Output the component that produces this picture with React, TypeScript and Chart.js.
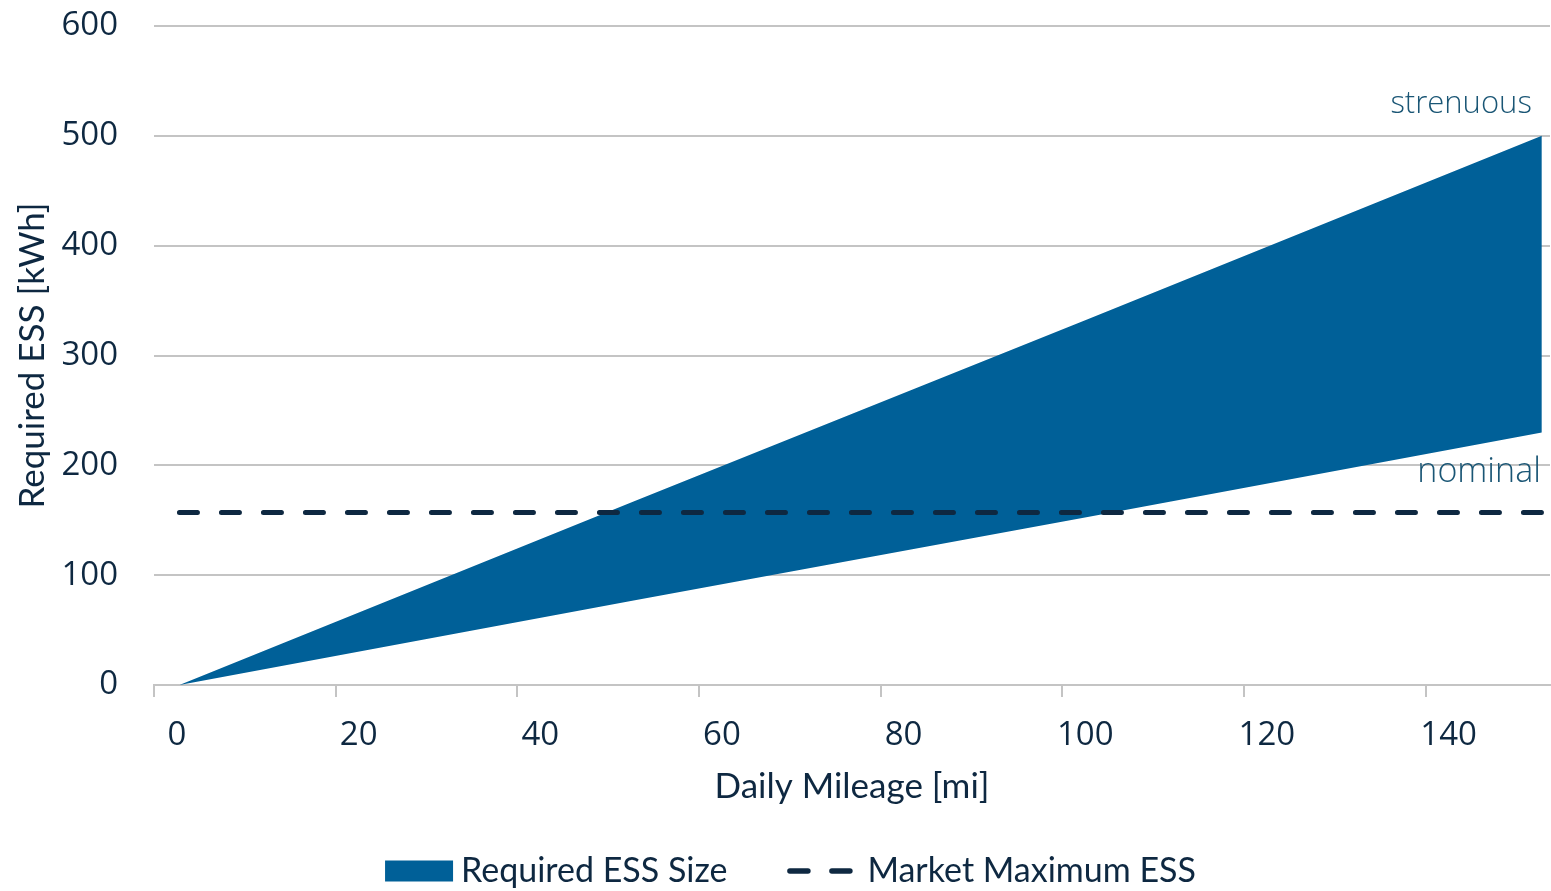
import React, { useEffect, useRef } from "react";
import { Chart, registerables } from "chart.js";

Chart.register(...registerables);

const mileage = [0, 50, 100, 150];
const strenuous = [0, 167, 333, 500];
const nominal = [0, 77, 153, 230];
const marketMileage = [0, 150];
const marketMax = [157, 157];
const xTickLabels = [0, 20, 40, 60, 80, 100, 120, 140];
const yTicks = [0, 100, 200, 300, 400, 500, 600];

const AXIS_SHIFT = 2.8;
const NAVY = "#0e2841";
const BLUE = "#006098";
const TEAL = "#1a5675";
const GRID = "#c4c4c4";

const annotations = {
  id: "bandLabels",
  afterDatasetsDraw(chart: any) {
    const ctx = chart.ctx;
    const m0 = chart.getDatasetMeta(0).data;
    const m1 = chart.getDatasetMeta(1).data;
    const p0 = m0[m0.length - 1];
    const p1 = m1[m1.length - 1];
    ctx.save();
    ctx.font = "300 31px 'Open Sans'";
    ctx.fillStyle = TEAL;
    ctx.textAlign = "right";
    ctx.textBaseline = "middle";
    ctx.fillText("strenuous", p0.x - 10, p0.y - 32);
    ctx.font = "300 34px 'Open Sans'";
    ctx.fillText("nominal", p1.x - 1, p1.y + 40);
    ctx.restore();
  },
};

const bottomLegend = {
  id: "bottomLegend",
  afterDraw(chart: any) {
    const ctx = chart.ctx;
    const ds = chart.data.datasets;
    const items = [ds[0], ds[2]];
    ctx.save();
    ctx.font = "34px Lato";
    ctx.textBaseline = "middle";
    ctx.textAlign = "left";
    const iconW = [68, 65];
    const iconGap = [8, 15];
    const itemGap = 60;
    const widths = items.map((d: any, i: number) => iconW[i] + iconGap[i] + ctx.measureText(d.label).width);
    const total = widths[0] + itemGap + widths[1];
    let x = chart.width / 2 + 15 - total / 2;
    const cy = chart.height - 20;
    items.forEach((d: any, i: number) => {
      if (i === 0) {
        ctx.fillStyle = d.backgroundColor;
        ctx.fillRect(x, cy - 10.5, iconW[0], 21);
      } else {
        ctx.strokeStyle = d.borderColor;
        ctx.lineWidth = d.borderWidth + 0.5;
        ctx.lineCap = "round";
        ctx.setLineDash(d.borderDash);
        ctx.beginPath();
        ctx.moveTo(x + 2.5, cy);
        ctx.lineTo(x + iconW[1] - 2.5, cy);
        ctx.stroke();
        ctx.setLineDash([]);
      }
      ctx.fillStyle = NAVY;
      ctx.fillText(d.label, x + iconW[i] + iconGap[i], cy);
      x += widths[i] + itemGap;
    });
    ctx.restore();
  },
};

export default function App() {
  const ref = useRef<HTMLCanvasElement>(null);
  useEffect(() => {
    document.body.style.margin = "0";
    const chart = new Chart(ref.current!, {
      type: "line",
      data: {
        datasets: [
          {
            label: "Required ESS Size",
            data: mileage.map((x, i) => ({ x, y: strenuous[i] })),
            borderWidth: 0,
            borderColor: BLUE,
            backgroundColor: BLUE,
            pointRadius: 0,
            fill: "+1",
          },
          {
            label: "nominal",
            data: mileage.map((x, i) => ({ x, y: nominal[i] })),
            borderWidth: 0,
            borderColor: BLUE,
            backgroundColor: BLUE,
            pointRadius: 0,
            fill: false,
          },
          {
            label: "Market Maximum ESS",
            data: marketMileage.map((x, i) => ({ x, y: marketMax[i] })),
            borderWidth: 5,
            borderColor: NAVY,
            backgroundColor: NAVY,
            borderDash: [18, 24],
            borderCapStyle: "round",
            pointRadius: 0,
            fill: false,
          },
        ],
      },
      options: {
        responsive: false,
        animation: false,
        layout: { padding: { top: 0, right: 1, left: 12, bottom: 78 } },
        plugins: {
          filler: { drawTime: "beforeDatasetsDraw" },
          tooltip: { enabled: false },
          legend: { display: false },
        },
        scales: {
          x: {
            type: "linear",
            min: -AXIS_SHIFT,
            max: 150.9,
            afterBuildTicks: (scale: any) => {
              scale.ticks = xTickLabels.map((v) => ({ value: v - AXIS_SHIFT }));
            },
            afterFit: (scale: any) => {
              scale.height = 128;
            },
            grid: {
              drawOnChartArea: false,
              drawTicks: true,
              tickLength: 12,
              color: GRID,
              lineWidth: 2,
            },
            border: { color: GRID, width: 2 },
            ticks: {
              color: NAVY,
              font: { family: "Open Sans", size: 33 },
              labelOffset: 23,
              padding: 19,
              maxRotation: 0,
              autoSkip: false,
              callback: (v: any) => String(Math.round(Number(v) + AXIS_SHIFT)),
            },
            title: {
              display: true,
              text: "Daily Mileage [mi]",
              color: NAVY,
              font: { family: "Lato", size: 35 },
              padding: { top: 0, bottom: 5 },
            },
          },
          y: {
            min: 0,
            max: 600,
            afterBuildTicks: (scale: any) => {
              scale.ticks = yTicks.map((v) => ({ value: v }));
            },
            afterFit: (scale: any) => {
              scale.width = 142;
              scale.paddingTop = 26;
              scale.paddingBottom = 0;
            },
            grid: { drawTicks: false, color: GRID, lineWidth: 2 },
            border: { display: false },
            ticks: {
              color: NAVY,
              font: { family: "Open Sans", size: 33 },
              padding: 36,
            },
            title: {
              display: true,
              text: "Required ESS [kWh]",
              color: NAVY,
              font: { family: "Lato", size: 35 },
              padding: { top: 0, bottom: 0 },
            },
          },
        },
      },
      plugins: [annotations, bottomLegend],
    } as any);
    return () => chart.destroy();
  }, []);
  return (
    <div style={{ width: 1551, height: 891 }}>
      <canvas ref={ref} width={1551} height={891} />
    </div>
  );
}
